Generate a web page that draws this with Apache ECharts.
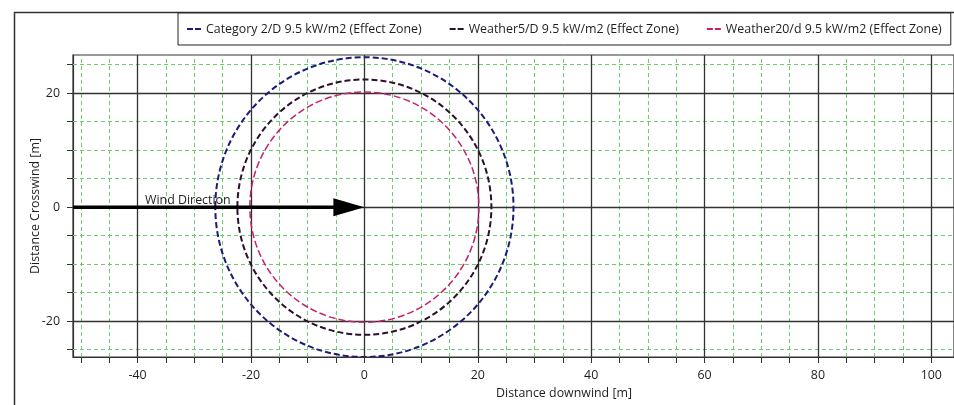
<!DOCTYPE html>
<html>
<head>
<meta charset="utf-8">
<script src="https://cdn.jsdelivr.net/npm/echarts@6/dist/echarts.min.js"></script>
<style>
html,body{margin:0;padding:0;background:#fff;}
#c{width:954px;height:405px;}
</style>
</head>
<body>
<div id="c"></div>
<script>
// ---- data ----
const seriesNames = [
  'Category 2/D 9.5 kW/m2 (Effect Zone)',
  'Weather5/D 9.5 kW/m2 (Effect Zone)',
  'Weather20/d 9.5 kW/m2 (Effect Zone)'
];
const centerX = [0, 0, 0];
const centerY = [0, 0, 0];
const radii = [26.3, 22.4, 20.2];

const xTickLabels = [-40, -20, 0, 20, 40, 60, 80, 100];
const yTickLabels = [-20, 0, 20];
const xMajorGrid = [-40, -20, 0, 20, 40, 60, 80, 100];
const xMinorGrid = [-50, -45, -35, -30, -25, -15, -10, -5, 5, 10, 15, 25, 30, 35, 45, 50, 55, 65, 70, 75, 85, 90, 95];
const yMajorGrid = [-20, 0, 20];
const yMinorGrid = [-25, -15, -10, -5, 5, 10, 15, 25];
const xTicks = [-50, -45, -40, -35, -30, -25, -20, -15, -10, -5, 0, 5, 10, 15, 20, 25, 30, 35, 40, 45, 50, 55, 60, 65, 70, 75, 80, 85, 90, 95, 100];
const yTicks = [-25, -20, -15, -10, -5, 0, 5, 10, 15, 20, 25];
const windArrowStart = [-51.4, 0];
const windArrowEnd = [0, 0];
const windLabel = 'Wind Direction';

// ---- styles ----
const colors = ['#1c1c78', '#2b112b', '#c4206c'];
const widths = [2, 2, 1.5];
const dashes = [[6, 3], [6, 3], [7, 3]];
const FONT = 'Open Sans';
const FS = 12.4;
const TXT = '#1e1e1e';

const chart = echarts.init(document.getElementById('c'));

const gridLineData = [];
xMinorGrid.forEach(v => gridLineData.push({xAxis: v, lineStyle: {color: '#6ccd6c', type: [4, 3], width: 1}}));
yMinorGrid.forEach(v => gridLineData.push({yAxis: v, lineStyle: {color: '#6ccd6c', type: [4, 3], width: 1}}));
const majorLineData = [];
xMajorGrid.forEach(v => majorLineData.push({xAxis: v, lineStyle: {color: '#333', type: 'solid', width: 1.3}}));
yMajorGrid.forEach(v => majorLineData.push({yAxis: v, lineStyle: {color: '#333', type: 'solid', width: 1.3}}));

const dashIcon = 'path://M0,0h6v2h-6z M8,0h6v2h-6z';

const circleSeries = seriesNames.map((name, i) => ({
  name: name,
  type: 'custom',
  coordinateSystem: 'cartesian2d',
  z: 5,
  silent: true,
  clip: true,
  itemStyle: {color: colors[i]},
  data: [[centerX[i], centerY[i], radii[i]]],
  renderItem: function (params, api) {
    const c = api.coord([api.value(0), api.value(1)]);
    const s = api.size([api.value(2), api.value(2)]);
    return {
      type: 'ellipse',
      shape: {cx: c[0], cy: c[1], rx: s[0], ry: s[1]},
      style: {fill: 'none', stroke: colors[i], lineWidth: widths[i], lineDash: dashes[i]}
    };
  }
}));

const option = {
  animation: false,
  backgroundColor: '#fff',
  textStyle: {fontFamily: FONT},
  graphic: [
    {type: 'rect', left: 12, top: 10, z: -10, silent: true,
     shape: {x: 0, y: 0, width: 1000, height: 500},
     style: {fill: 'none', stroke: '#333', lineWidth: 1.5}},
    {type: 'text', x: 564, y: 393, silent: true,
     style: {text: 'Distance downwind [m]', font: FS + 'px "' + FONT + '"', fill: TXT,
             align: 'center', verticalAlign: 'middle', textAlign: 'center', textVerticalAlign: 'middle'}}
  ],
  legend: {
    left: 178, top: 13,
    padding: [10, 9, 10, 9],
    borderColor: '#222', borderWidth: 1,
    backgroundColor: '#fff',
    itemWidth: 14, itemHeight: 3, itemGap: 28,
    textStyle: {fontFamily: FONT, fontSize: FS, color: TXT},
    data: seriesNames.map((n, i) => ({name: n, icon: dashIcon, itemStyle: {color: colors[i]}}))
  },
  grid: {left: 73, top: 55, right: 0, bottom: 48, show: true, borderColor: '#333', borderWidth: 1.2, backgroundColor: '#fff'},
  xAxis: {
    type: 'value', min: -51.4, max: 104,
    axisLine: {show: true, onZero: false, lineStyle: {color: '#333', width: 1.2}},
    axisTick: {show: true, customValues: xTicks, length: 6, lineStyle: {color: '#333'}},
    axisLabel: {customValues: xTickLabels, margin: 12, fontFamily: FONT, fontSize: FS, color: TXT},
    splitLine: {show: false}
  },
  yAxis: {
    type: 'value', min: -26.3, max: 26.7,
    name: 'Distance Crosswind [m]', nameLocation: 'middle', nameGap: 32, nameMoveOverlap: false,
    nameTextStyle: {fontFamily: FONT, fontSize: FS, color: TXT},
    axisLine: {show: true, onZero: false, lineStyle: {color: '#333', width: 1.2}},
    axisTick: {show: true, customValues: yTicks, length: 6, lineStyle: {color: '#333'}},
    axisLabel: {customValues: yTickLabels, margin: 13, fontFamily: FONT, fontSize: FS, color: TXT},
    splitLine: {show: false}
  },
  series: [
    {type: 'line', data: [], z: 1, silent: true,
     markLine: {silent: true, symbol: 'none', label: {show: false}, animation: false, data: gridLineData}},
    {type: 'line', data: [], z: 2, silent: true,
     markLine: {silent: true, symbol: 'none', label: {show: false}, animation: false, data: majorLineData}}
  ].concat(circleSeries).concat([
    {
      type: 'custom', coordinateSystem: 'cartesian2d', z: 6, silent: true,
      data: [[windArrowStart[0], windArrowStart[1], windArrowEnd[0], windArrowEnd[1]]],
      renderItem: function (params, api) {
        const a = api.coord([api.value(0), api.value(1)]);
        const b = api.coord([api.value(2), api.value(3)]);
        const headL = 31, headH = 9;
        return {
          type: 'group',
          children: [
            {type: 'line', shape: {x1: a[0], y1: a[1], x2: b[0] - headL + 2, y2: b[1]},
             style: {stroke: '#000', lineWidth: 3.5}},
            {type: 'polygon', shape: {points: [[b[0] - headL, b[1] - headH], [b[0], b[1]], [b[0] - headL, b[1] + headH]]},
             style: {fill: '#000'}},
            {type: 'text', x: a[0] + 72, y: a[1] - 7,
             style: {text: windLabel, font: FS + 'px "' + FONT + '"', fill: TXT,
                     align: 'left', verticalAlign: 'middle'}}
          ]
        };
      }
    }
  ])
};
chart.setOption(option);
</script>
</body>
</html>
